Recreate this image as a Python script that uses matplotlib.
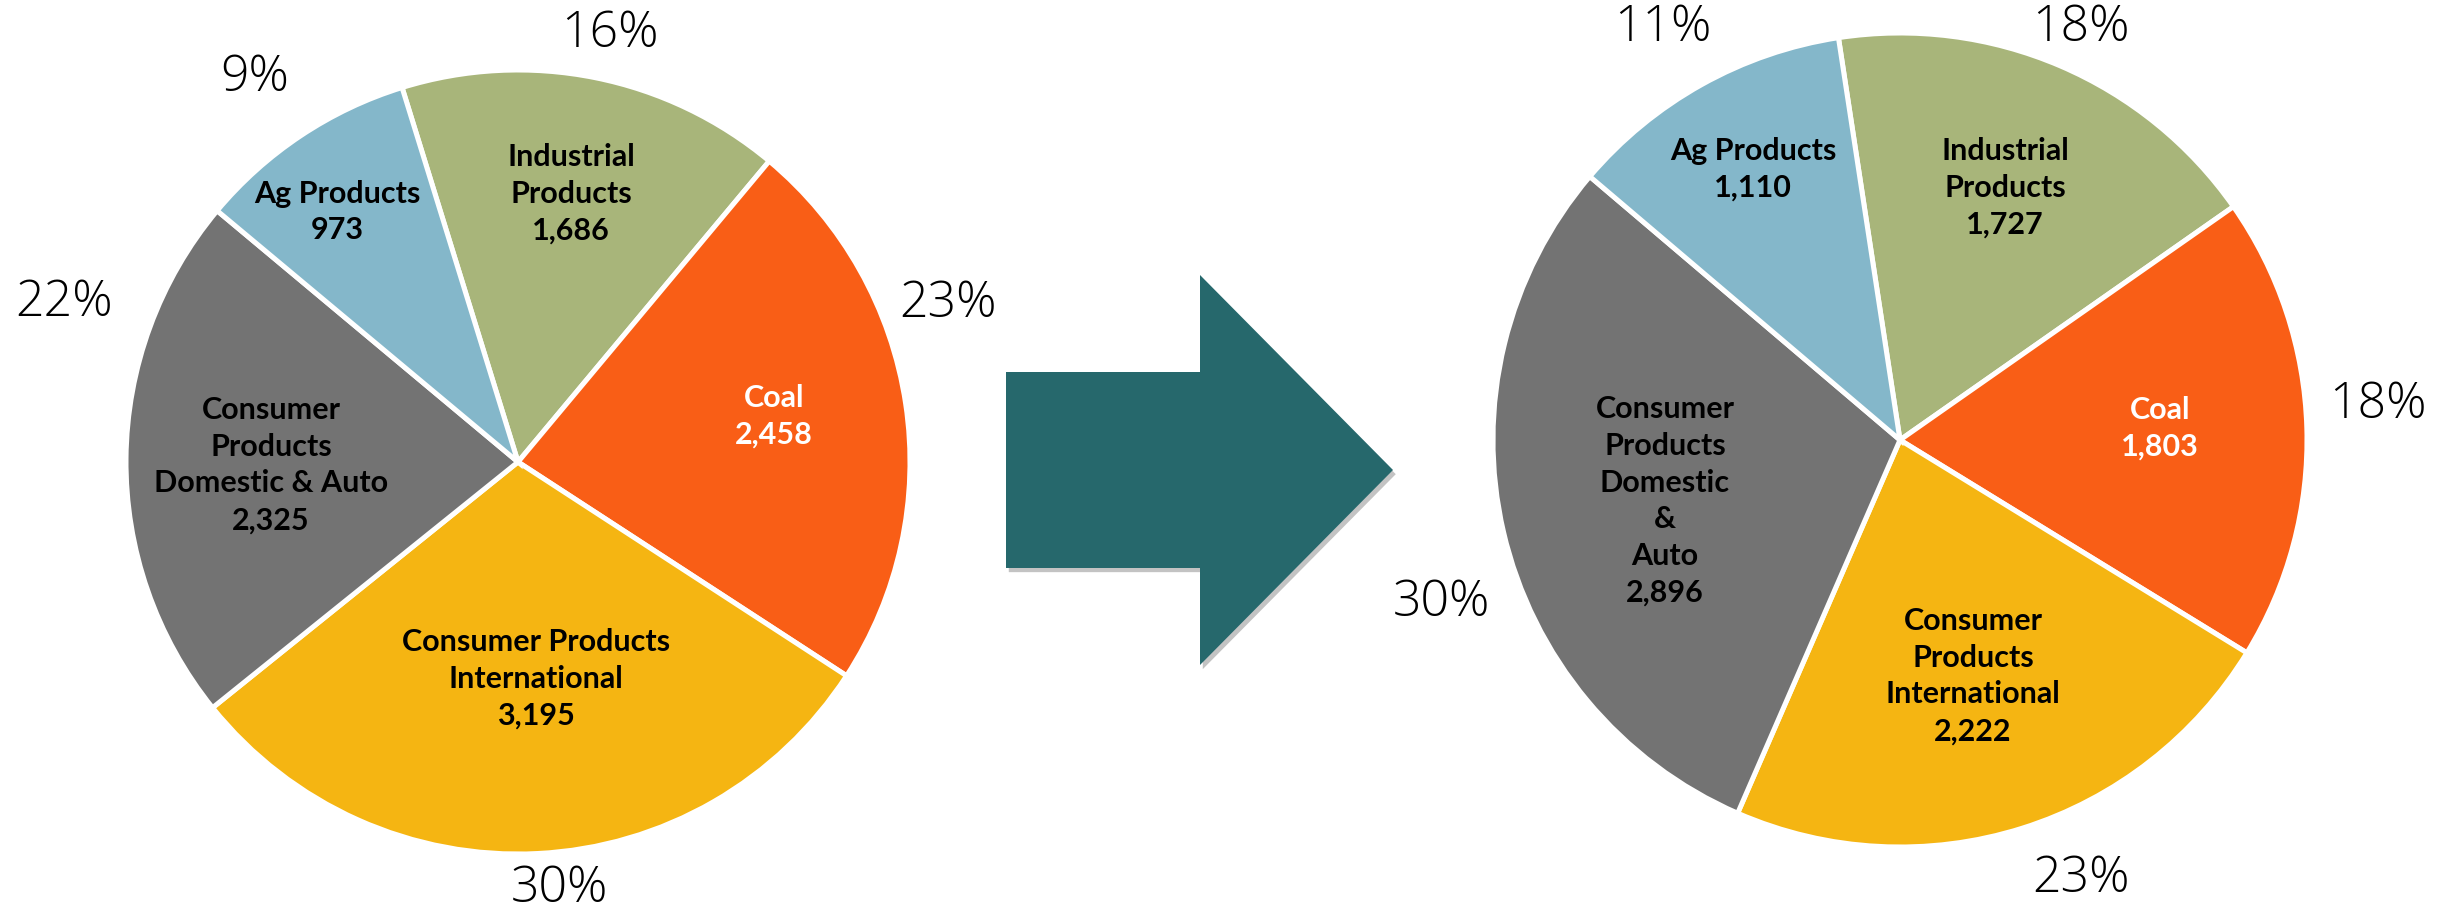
import matplotlib
matplotlib.use("Agg")
import matplotlib.pyplot as plt
from matplotlib.patches import FancyArrow
import matplotlib.patheffects as pe

# Carload volumes by commodity group, two periods
categories = ["Industrial Products", "Coal", "Consumer Products International",
              "Consumer Products Domestic & Auto", "Ag Products"]
values_before = [1686, 2458, 3195, 2325, 973]
values_after = [1727, 1803, 2222, 2896, 1110]

labels_before = ["Industrial\nProducts", "Coal", "Consumer Products\nInternational",
                 "Consumer\nProducts\nDomestic & Auto", "Ag Products"]
labels_after = ["Industrial\nProducts", "Coal", "Consumer\nProducts\nInternational",
                "Consumer\nProducts\nDomestic\n&\nAuto", "Ag Products"]

colors = ["#A8B57A", "#F95E16", "#F5B512", "#737373", "#84B7CA"]
text_colors = ["black", "white", "black", "black", "black"]

W, H = 2463, 918
fig = plt.figure(figsize=(W / 100, H / 100), dpi=100)
ax = fig.add_axes([0, 0, 1, 1])
ax.set_xlim(0, W)
ax.set_ylim(0, H)
ax.set_aspect("equal")
ax.axis("off")

inner_font = dict(family=["Lato", "DejaVu Sans"], fontweight="bold", fontsize=22,
                  ha="center", va="center", linespacing=1.38)
pct_font = dict(family=["Open Sans", "DejaVu Sans"], fontweight=300, fontsize=36,
                ha="center", va="center", color="black")


def draw_pie(values, labels, center, radius, startangle, inner_pos, pct_pos):
    ax.pie(values, colors=colors, center=center, radius=radius,
           startangle=startangle, counterclock=False,
           wedgeprops=dict(edgecolor="white", linewidth=3.6),
           frame=True)
    total = sum(values)
    for v, lab, tc, (ix, iy), (px, py) in zip(values, labels, text_colors,
                                              inner_pos, pct_pos):
        ax.text(ix, H - iy, f"{lab}\n{v:,}", color=tc, **inner_font)
        ax.text(px, H - py, f"{round(100 * v / total):.0f}%", **pct_font)


draw_pie(values_before, labels_before, center=(518, H - 462), radius=392,
         startangle=107.2,
         inner_pos=[(571, 194), (774, 416), (536, 679), (271, 465), (337, 212)],
         pct_pos=[(610, 34), (948, 304), (559, 889), (64, 303), (255, 78)])

draw_pie(values_after, labels_after, center=(1900, H - 440), radius=407,
         startangle=98.7,
         inner_pos=[(2005, 188), (2160, 428), (1973, 676), (1665, 501), (1753, 169)],
         pct_pos=[(2081, 28), (2378, 405), (2081, 879), (1441, 603), (1663, 28)])

ax.set_xlim(0, W)
ax.set_ylim(0, H)
ax.axis("off")

# Transition arrow between the two periods
arrow = FancyArrow(1006, H - 470, 387, 0, width=196, head_width=390,
                   head_length=193, length_includes_head=True,
                   facecolor="#26686C", edgecolor="none", zorder=5)
arrow.set_path_effects([pe.SimplePatchShadow(offset=(2, -3), alpha=0.35,
                                             shadow_rgbFace="#555555"),
                        pe.Normal()])
ax.add_patch(arrow)

fig.savefig("out.png", dpi=100, facecolor="white")
